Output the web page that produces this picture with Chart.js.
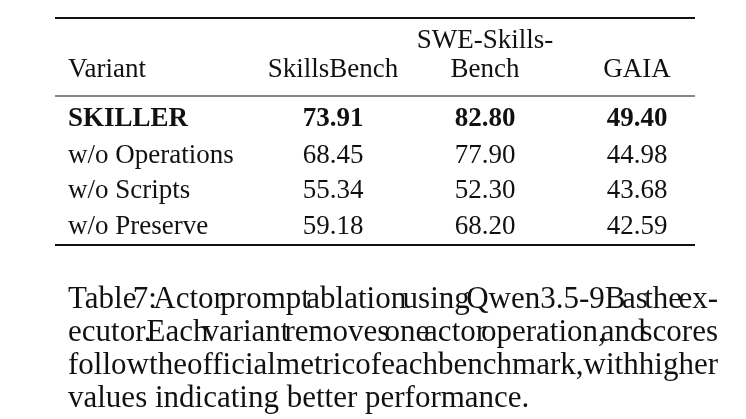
<!DOCTYPE html>
<html><head><meta charset="utf-8">
<script src="https://cdn.jsdelivr.net/npm/chart.js@4/dist/chart.umd.min.js"></script>
<style>html,body{margin:0;padding:0;background:#fff}#c{display:block}</style>
</head><body><canvas id="c" width="746" height="419"></canvas>
<script>
const headers = [["Variant"], ["SkillsBench"], ["SWE-Skills-", "Bench"], ["GAIA"]];
const variants = ["SKILLER", "w/o Operations", "w/o Scripts", "w/o Preserve"];
const skillsBench = [73.91, 68.45, 55.34, 59.18];
const sweSkillsBench = [82.80, 77.90, 52.30, 68.20];
const gaia = [49.40, 44.98, 43.68, 42.59];
const captionLines = [
  "Table 7: Actor prompt ablation using Qwen3.5-9B as the ex-",
  "ecutor. Each variant removes one actor operation, and scores",
  "follow the official metric of each benchmark, with higher",
  "values indicating better performance."
];

const colX = [68, 333, 485, 637];
const rowY = [117, 154, 189, 225];
const FONT = '"Liberation Serif","DejaVu Serif",serif';

const tablePlugin = {
  id: 'table',
  afterDraw(chart) {
    const ctx = chart.ctx, xs = chart.scales.x, ys = chart.scales.y;
    const X = v => xs.getPixelForValue(v), Y = v => ys.getPixelForValue(v);
    ctx.save();
    ctx.fillStyle = '#111'; ctx.strokeStyle = '#111';
    const rule = (y, w) => { ctx.lineWidth = w; ctx.beginPath(); ctx.moveTo(X(55), Y(y)); ctx.lineTo(X(695), Y(y)); ctx.stroke(); };
    rule(18, 2); rule(96, 1.2); rule(245, 2);
    ctx.textBaseline = 'alphabetic';
    ctx.font = '27px ' + FONT;
    headers.forEach((h, i) => {
      ctx.textAlign = i === 0 ? 'left' : 'center';
      h.forEach((t, j) => ctx.fillText(t, X(colX[i]), Y(77 - (h.length - 1 - j) * 29)));
    });
    variants.forEach((v, r) => {
      ctx.font = (r === 0 ? 'bold ' : '') + '27px ' + FONT;
      const y = Y(rowY[r] + 9);
      ctx.textAlign = 'left'; ctx.fillText(v, X(colX[0]), y);
      ctx.textAlign = 'center';
      ctx.fillText(skillsBench[r].toFixed(2), X(colX[1]), y);
      ctx.fillText(sweSkillsBench[r].toFixed(2), X(colX[2]), y);
      ctx.fillText(gaia[r].toFixed(2), X(colX[3]), y);
    });
    ctx.font = '31px ' + FONT; ctx.textAlign = 'left';
    const left = X(68), right = X(718);
    captionLines.forEach((line, i) => {
      const y = Y(308 + i * 33);
      const words = line.split(' ');
      if (i === captionLines.length - 1) { ctx.fillText(line, left, y); return; }
      const tw = words.reduce((s, w) => s + ctx.measureText(w).width, 0);
      const gap = (right - left - tw) / (words.length - 1);
      let x = left;
      words.forEach(w => { ctx.fillText(w, x, y); x += ctx.measureText(w).width + gap; });
    });
    ctx.restore();
  }
};

new Chart(document.getElementById('c'), {
  type: 'scatter',
  data: { datasets: [{ data: [] }] },
  options: {
    responsive: false, animation: false,
    layout: { padding: 0 },
    plugins: { legend: { display: false }, tooltip: { enabled: false } },
    scales: {
      x: { type: 'linear', min: 0, max: 746, display: false },
      y: { type: 'linear', min: 0, max: 419, reverse: true, display: false }
    }
  },
  plugins: [tablePlugin]
});
</script></body></html>
